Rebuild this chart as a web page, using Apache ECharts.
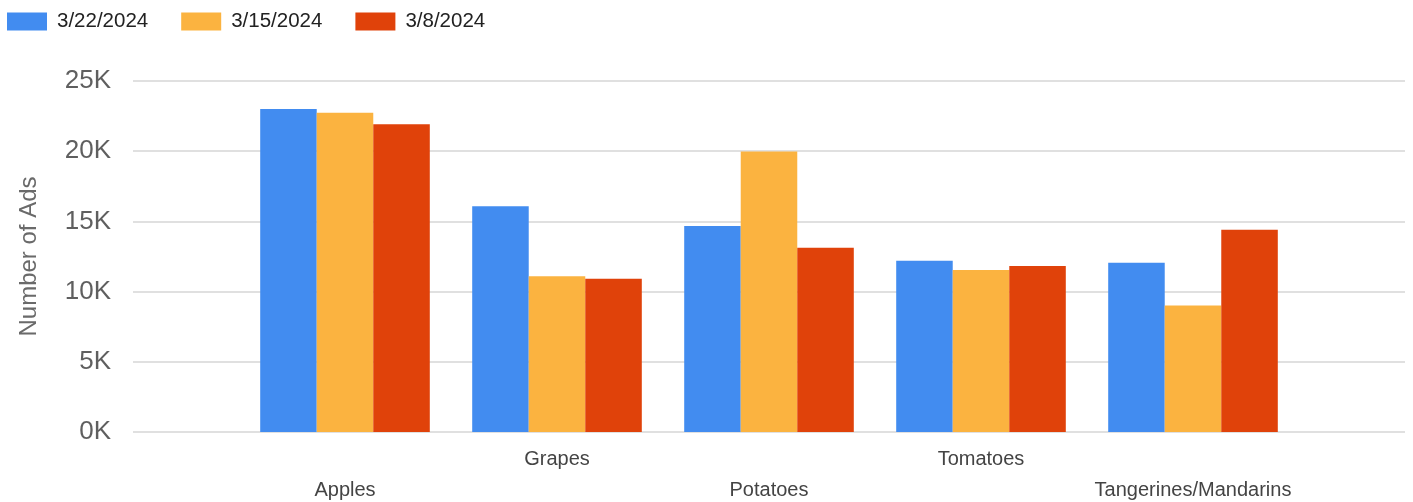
<!DOCTYPE html>
<html>
<head>
<meta charset="utf-8">
<script src="https://cdn.jsdelivr.net/npm/echarts@6/dist/echarts.min.js"></script>
<style>
html,body{margin:0;padding:0;background:#fff;}
#chart{width:1413px;height:502px;}
</style>
</head>
<body>
<div id="chart"></div>
<script>
// Category slots: empty slots at both ends give the half-band padding seen in the reference
const categories = ['', 'Apples', 'Grapes', 'Potatoes', 'Tomatoes', 'Tangerines/Mandarins', ''];
const seriesNames = ['3/22/2024', '3/15/2024', '3/8/2024'];
const values0322 = [null, 23000, 16080, 14680, 12190, 12050, null];
const values0315 = [null, 22740, 11100, 19970, 11530, 9010, null];
const values0308 = [null, 21920, 10910, 13120, 11830, 14400, null];
const yTicks = [0, 5000, 10000, 15000, 20000, 25000];
const colors = ['#428cf0', '#fbb340', '#e0420a'];

const chart = echarts.init(document.getElementById('chart'), null, {renderer: 'canvas'});
const allValues = [values0322, values0315, values0308];

chart.setOption({
  animation: false,
  color: colors,
  textStyle: {fontFamily: 'Liberation Sans, Arial, sans-serif'},
  legend: {
    left: 2, top: 6,
    itemWidth: 40, itemHeight: 18, itemGap: 33,
    icon: 'rect',
    textStyle: {fontSize: 20.5, color: '#222', padding: [0, 0, 0, 5], fontFamily: 'Liberation Sans, Arial, sans-serif'},
    data: seriesNames
  },
  grid: {left: 133, right: 8, top: 81, bottom: 70, containLabel: false, outerBoundsMode: 'none'},
  xAxis: {
    type: 'category',
    data: categories,
    boundaryGap: false,
    axisLine: {show: false},
    axisTick: {show: false},
    axisLabel: {
      interval: 0,
      hideOverlap: false,
      margin: 12,
      fontSize: 20,
      lineHeight: 31,
      color: '#444',
      fontFamily: 'Liberation Sans, Arial, sans-serif',
      formatter: function (v, i) { return (i % 2 === 1) ? '\n' + v : v; }
    }
  },
  yAxis: {
    type: 'value',
    min: yTicks[0],
    max: yTicks[yTicks.length - 1],
    interval: yTicks[1] - yTicks[0],
    name: 'Number of Ads',
    nameLocation: 'middle',
    nameGap: 92,
    nameTextStyle: {fontSize: 24, color: '#6a6a6a', fontFamily: 'Liberation Sans, Arial, sans-serif'},
    axisLine: {show: false},
    axisTick: {show: false},
    splitLine: {lineStyle: {color: '#e0e0e0', width: 2}},
    axisLabel: {
      margin: 22,
      fontSize: 26,
      color: '#5f5f5f',
      fontFamily: 'Liberation Sans, Arial, sans-serif',
      formatter: function (v) { return (v / 1000) + 'K'; }
    }
  },
  series: seriesNames.map(function (name, k) {
    return {
      name: name,
      type: 'bar',
      data: allValues[k],
      barGap: '0%',
      barCategoryGap: '20%'
    };
  })
});
</script>
</body>
</html>
